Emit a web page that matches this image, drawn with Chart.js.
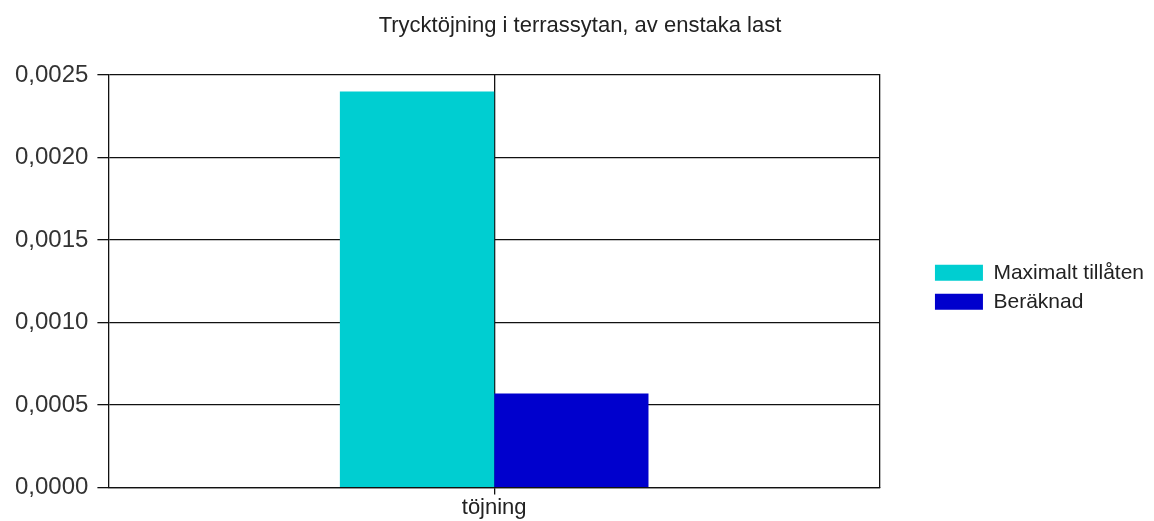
<!DOCTYPE html>
<html>
<head>
<meta charset="utf-8">
<script src="https://cdn.jsdelivr.net/npm/chart.js@4/dist/chart.umd.min.js"></script>
<style>
    html, body { margin: 0; padding: 0; background: #fff; }
    #wrap { width: 1154px; height: 521px; position: relative; }
</style>
</head>
<body>
<div id="wrap"><canvas id="chartTrycktojning"></canvas></div>
<script>
const categories = ['töjning'];
const seriesNames = ['Maximalt tillåten', 'Beräknad'];
const maxTillaten = [0.0024];
const beraknad = [0.00057];
const seriesColors = ['#00CED1', '#0000CD'];
const yMin = 0;
const yMax = 0.0025;
const yStep = 0.0005;

const fontFamily = "'Liberation Sans', Arial, sans-serif";
const lineColor = '#111';

// formats 0.0005 -> 0,0005
const fmt = v => Number(v).toFixed(4).replace('.', ',');

document.addEventListener('DOMContentLoaded', () => {
    const ctx = document.getElementById('chartTrycktojning');
    new Chart(ctx, {
        type: 'bar',
        data: {
            labels: categories,
            datasets: [
                { label: seriesNames[0], data: maxTillaten, backgroundColor: seriesColors[0], borderWidth: 0 },
                { label: seriesNames[1], data: beraknad, backgroundColor: seriesColors[1], borderWidth: 0 }
            ]
        },
        options: {
            responsive: true,
            maintainAspectRatio: false,
            animation: false,
            categoryPercentage: 0.4,
            barPercentage: 1,
            layout: { padding: { left: 6, right: 0, top: 0, bottom: 0 } },
            plugins: {
                tooltip: { enabled: false },
                title: {
                    display: true,
                    text: 'Trycktöjning i terrassytan, av enstaka last',
                    color: '#222',
                    font: { family: fontFamily, size: 22, weight: 'normal' },
                    padding: { top: 13, bottom: 35.6 }
                },
                legend: {
                    position: 'right',
                    fullSize: false,
                    maxWidth: 260,
                    // blank legend title only pushes the items a bit lower
                    title: { display: true, text: ' ', padding: 0, font: { size: 10 } },
                    labels: {
                        color: '#222',
                        font: { family: fontFamily, size: 21 },
                        boxWidth: 48,
                        boxHeight: 16,
                        padding: 8
                    }
                }
            },
            scales: {
                x: {
                    grid: { offset: false, color: lineColor, lineWidth: 1.3, tickLength: 7, drawOnChartArea: true },
                    border: { color: lineColor, width: 1.3 },
                    ticks: { color: '#222', padding: 0, font: { family: fontFamily, size: 22 } }
                },
                y: {
                    min: yMin,
                    max: yMax,
                    grid: { color: lineColor, lineWidth: 1.3, tickLength: 11 },
                    border: { color: lineColor, width: 1.3 },
                    ticks: {
                        stepSize: yStep,
                        color: '#333',
                        padding: 9,
                        font: { family: fontFamily, size: 24 },
                        callback: v => fmt(v)
                    }
                },
                // empty right axis: draws the right frame line and leaves the gap before the legend
                yRight: {
                    position: 'right',
                    min: yMin,
                    max: yMax,
                    grid: { drawOnChartArea: false, drawTicks: false },
                    border: { color: lineColor, width: 1.3 },
                    ticks: { display: false },
                    afterFit: scale => { scale.width = 47; }
                }
            }
        }
    });
});
</script>
</body>
</html>
